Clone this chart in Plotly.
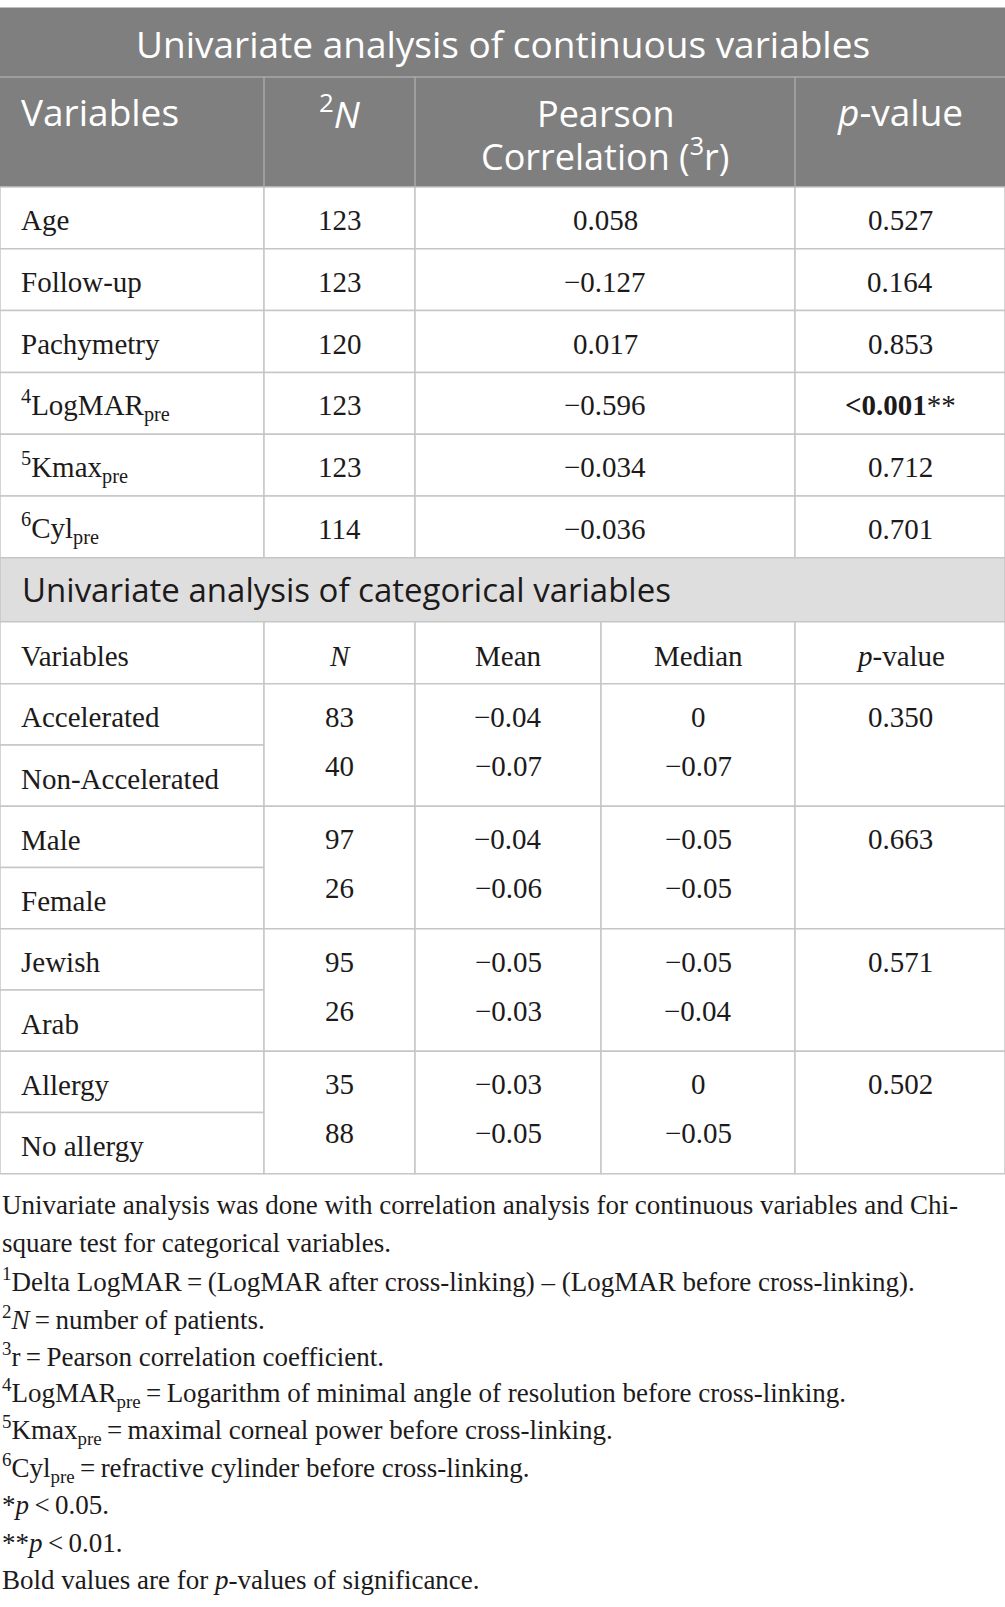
import plotly.graph_objects as go

W, H = 1005, 1607

# ---- data: continuous variables ----
cont_title = "Univariate analysis of continuous variables"
cont_header = ["Variables", "<sup>2</sup><i>N</i>",
               ["Pearson", "Correlation (<sup>3</sup>r)"], "<i>p</i>-value"]
cont_vars = ["Age", "Follow-up", "Pachymetry",
             "<sup>4</sup>LogMAR<sub>pre</sub>",
             "<sup>5</sup>Kmax<sub>pre</sub>",
             "<sup>6</sup>Cyl<sub>pre</sub>"]
cont_n = [123, 123, 120, 123, 123, 114]
cont_r = [0.058, -0.127, 0.017, -0.596, -0.034, -0.036]
cont_p = ["0.527", "0.164", "0.853", "<b>&lt;0.001</b>**", "0.712", "0.701"]

# ---- data: categorical variables ----
cat_title = "Univariate analysis of categorical variables"
cat_header = ["Variables", "<i>N</i>", "Mean", "Median", "<i>p</i>-value"]
cat_labels = ["Accelerated", "Non-Accelerated", "Male", "Female",
              "Jewish", "Arab", "Allergy", "No allergy"]
cat_n = [83, 40, 97, 26, 95, 26, 35, 88]
cat_mean = [-0.04, -0.07, -0.04, -0.06, -0.05, -0.03, -0.03, -0.05]
cat_median = [0, -0.07, -0.05, -0.05, -0.05, -0.04, 0, -0.05]
cat_p = [0.350, 0.663, 0.571, 0.502]

footnotes = [
    "Univariate analysis was done with correlation analysis for continuous variables and Chi-",
    "square test for categorical variables.",
    "<sup>1</sup>Delta LogMAR\u2009=\u2009(LogMAR after cross-linking) \u2013 (LogMAR before cross-linking).",
    "<sup>2</sup><i>N</i>\u2009=\u2009number of patients.",
    "<sup>3</sup>r\u2009=\u2009Pearson correlation coefficient.",
    "<sup>4</sup>LogMAR<sub>pre</sub>\u2009=\u2009Logarithm of minimal angle of resolution before cross-linking.",
    "<sup>5</sup>Kmax<sub>pre</sub>\u2009=\u2009maximal corneal power before cross-linking.",
    "<sup>6</sup>Cyl<sub>pre</sub>\u2009=\u2009refractive cylinder before cross-linking.",
    "*<i>p</i>\u2009&lt;\u20090.05.",
    "**<i>p</i>\u2009&lt;\u20090.01.",
    "Bold values are for <i>p</i>-values of significance.",
]

# ---- layout geometry ----
cont_cols = [0, 264, 415, 795, 1005]
cat_cols = [0, 264, 415, 601, 795, 1005]
top = 8
title_h = 69
head_h = 110
row_h = 61.8
cat_title_h = 64
cat_head_h = 62
sub_h = 61.25
foot_y0 = 1205
foot_dy = 37.5

SANS = "Open Sans"
SERIF = "Liberation Serif"
HEAD_BG = "#7f7f7f"
HEAD_LINE = "#a9a9a9"
GRID = "#c6c6c6"
BAND = "#dfdede"
INK = "#1c1a1a"


def fmt(v, d):
    if v == 0:
        return "0"
    return f"{v:.{d}f}".replace("-", "\u2212")


shapes = []
annots = []


def cell(x0, x1, y0, y1, fill="white", line=GRID, lw=1.5):
    shapes.append(dict(type="rect", x0=x0, x1=x1, y0=y0, y1=y1,
                       fillcolor=fill, line=dict(color=line, width=lw),
                       layer="below"))


def text(x, y, s, anchor="center", font=SERIF, size=29, color=INK):
    annots.append(dict(x=x, y=y, text=s, showarrow=False, xanchor=anchor,
                       yanchor="middle", align=anchor if anchor != "center" else "center",
                       font=dict(family=font, size=size, color=color)))


def centers(cols):
    return [(a + b) / 2 for a, b in zip(cols[:-1], cols[1:])]


# title band + header (dark gray)
y = top
cell(0, W, y, y + title_h + head_h, fill=HEAD_BG, line=HEAD_BG, lw=1)
shapes.append(dict(type="line", x0=0, x1=W, y0=y + title_h, y1=y + title_h,
                   line=dict(color=HEAD_LINE, width=1.5)))
for cx in cont_cols[1:-1]:
    shapes.append(dict(type="line", x0=cx, x1=cx, y0=y + title_h,
                       y1=y + title_h + head_h,
                       line=dict(color=HEAD_LINE, width=1.5)))
text(W / 2, y + title_h / 2 + 1, cont_title, font=SANS, size=37, color="white")
y += title_h
hc = centers(cont_cols)
for i, lab in enumerate(cont_header):
    if i == 0:
        text(19, y + 34, lab, anchor="left", font=SANS, size=37, color="white")
    elif isinstance(lab, list):
        for j, part in enumerate(lab):
            text(hc[i], y + 36 + j * 41, part, font=SANS, size=36, color="white")
    else:
        text(hc[i], y + 34, lab, font=SANS, size=37, color="white")
y += head_h

# continuous rows
for k in range(len(cont_vars)):
    for c in range(len(cont_cols) - 1):
        cell(cont_cols[c], cont_cols[c + 1], y, y + row_h)
    ym = y + row_h / 2 + 2
    text(19, ym, cont_vars[k], anchor="left")
    text(hc[1], ym, str(cont_n[k]))
    text(hc[2], ym, fmt(cont_r[k], 3))
    text(hc[3], ym, cont_p[k])
    y += row_h

# categorical title band
cell(0, W, y, y + cat_title_h, fill=BAND)
text(20, y + cat_title_h / 2, cat_title, anchor="left", font=SANS, size=33,
     color=INK)
y += cat_title_h

# categorical header
cc = centers(cat_cols)
for c in range(len(cat_cols) - 1):
    cell(cat_cols[c], cat_cols[c + 1], y, y + cat_head_h)
for i, lab in enumerate(cat_header):
    if i == 0:
        text(19, y + cat_head_h / 2 + 3, lab, anchor="left")
    else:
        text(cc[i], y + cat_head_h / 2 + 3, lab)
y += cat_head_h

# categorical groups (two sub-rows each, merged value cells)
for g in range(len(cat_p)):
    gh = 2 * sub_h
    cell(cat_cols[0], cat_cols[1], y, y + sub_h)
    cell(cat_cols[0], cat_cols[1], y + sub_h, y + gh)
    for c in range(1, len(cat_cols) - 1):
        cell(cat_cols[c], cat_cols[c + 1], y, y + gh)
    for j in range(2):
        k = 2 * g + j
        text(19, y + j * sub_h + sub_h / 2 + 3, cat_labels[k], anchor="left")
        vy = y + 33 + j * 49
        text(cc[1], vy, str(cat_n[k]))
        text(cc[2], vy, fmt(cat_mean[k], 2))
        text(cc[3], vy, fmt(cat_median[k], 2))
    text(cc[4], y + 33, f"{cat_p[g]:.3f}")
    y += gh

# footnotes
for i, s in enumerate(footnotes):
    text(0, foot_y0 + i * foot_dy, s, anchor="left", size=27)

fig = go.Figure()
fig.update_layout(
    width=W, height=H,
    margin=dict(l=0, r=0, t=0, b=0),
    paper_bgcolor="white", plot_bgcolor="white",
    xaxis=dict(range=[0, W], visible=False, fixedrange=True),
    yaxis=dict(range=[H, 0], visible=False, fixedrange=True),
    shapes=shapes, annotations=annots, showlegend=False,
)
fig.write_html("out.html", config={"displayModeBar": False},
               post_script="document.body.style.margin='0';")
